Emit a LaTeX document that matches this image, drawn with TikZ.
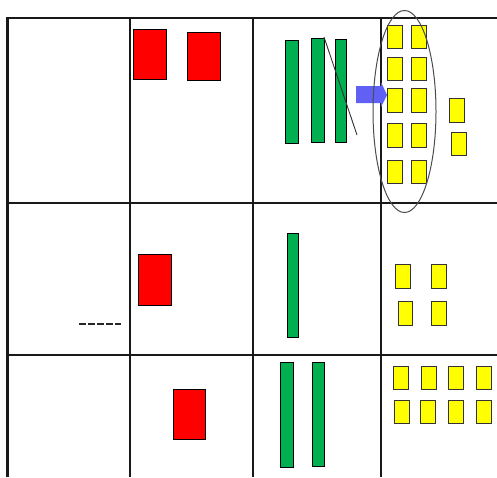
\documentclass[tikz,border=0pt]{standalone}
\usepackage{xcolor}
\usepackage{tikz}
\usetikzlibrary{calc}

\definecolor{hundredred}{HTML}{FF0000}
\definecolor{tengreen}{HTML}{00B050}
\definecolor{oneyellow}{HTML}{FFFF00}
\definecolor{arrowblue}{HTML}{6060F4}

\begin{document}
\begin{tikzpicture}[
    x=1pt, y=-1pt,
    gridline/.style={line width=2.5pt, black!90},
    hundred/.style={draw=black, fill=hundredred, line width=1pt},
    ten/.style={draw=black, fill=tengreen, line width=1pt},
    one/.style={draw=black!80, fill=oneyellow, line width=1pt},
  ]
  \useasboundingbox (0,0) rectangle (497,477);

  % Grid
  \foreach \ypos in {18,203,355}
    \draw[gridline] (7,\ypos) -- (497,\ypos);
  \foreach \xpos in {7.5,130,253,381}
    \draw[gridline] (\xpos,17) -- (\xpos,477);

  % Hundreds
  \draw[hundred] (133,29) rectangle (166,79);
  \draw[hundred] (187,32) rectangle (220,80);
  \draw[hundred] (138,254) rectangle (171,305);
  \draw[hundred] (173,389) rectangle (205,439);

  % Tens
  \draw[ten] (285,40) rectangle (298,143);
  \draw[ten] (311,38) rectangle (324,142);
  \draw[ten] (335,39) rectangle (346,142);
  \draw[ten] (287,233) rectangle (298,337);
  \draw[ten] (280,362) rectangle (293,467);
  \draw[ten] (312,362) rectangle (324,466);

  % Crossed-out ten
  \coordinate (crossA) at (324,37);
  \coordinate (crossB) at (357,135);
  \draw[line width=0.9pt, black!80] (crossA) -- (crossB);

  % Exchange arrow
  \fill[arrowblue] (356,86) -- (381,86) -- (381,82) -- (387,95)
    -- (381,107) -- (381,103) -- (356,103) -- cycle;

  % Ones, top row (ten ones from the exchange)
  \foreach \ya/\yb in {25/48,57/80,88/112,123/147,160/183} {
    \draw[one] (387,\ya) rectangle (402,\yb);
    \draw[one] (411,\ya) rectangle (426,\yb);
  }
  \draw[one] (449,98) rectangle (464,122);
  \draw[one] (451,132) rectangle (466,155);

  % Ring around the exchanged ones
  \draw[line width=1pt, black!70] (404.5,111.5) ellipse [x radius=31.5, y radius=101];

  % Ones, middle row
  \draw[one] (395,264) rectangle (410,288);
  \draw[one] (431,264) rectangle (446,288);
  \draw[one] (398,301) rectangle (412,325);
  \draw[one] (431,301) rectangle (446,325);

  % Ones, bottom row
  \foreach \xa in {393,421,448,476}
    \draw[one] (\xa,366) rectangle ($(\xa,389)+(15,0)$);
  \foreach \xa in {394,420,448,476}
    \draw[one] (\xa,400) rectangle ($(\xa,423)+(15,0)$);

  % Answer line
  \coordinate (lineL) at (79,324);
  \coordinate (lineR) at (121,324);
  \draw[line width=1.3pt, black!85, dash pattern=on 6.5pt off 2.5pt] (lineL) -- (lineR);
\end{tikzpicture}
\end{document}
